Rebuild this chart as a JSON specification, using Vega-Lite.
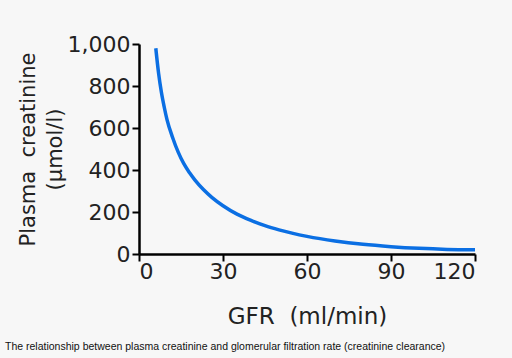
{
  "$schema": "https://vega.github.io/schema/vega-lite/v6.json",
  "autosize": "none",
  "width": 336,
  "height": 210,
  "padding": {"left": 139, "top": 44, "right": 37, "bottom": 104},
  "background": "#f7f7f7",
  "config": {
    "view": {"stroke": null},
    "font": "DejaVu Sans"
  },
  "title": {
    "text": "The relationship between plasma creatinine and glomerular filtration rate (creatinine clearance)",
    "orient": "bottom",
    "anchor": "start",
    "frame": "group",
    "dx": -134,
    "offset": 14,
    "font": "Liberation Sans",
    "fontSize": 10.5,
    "fontWeight": "normal",
    "color": "#111111"
  },
  "data": {
    "values": [
      {"gfr": 6, "creat": 980},
      {"gfr": 7, "creat": 860},
      {"gfr": 8, "creat": 770},
      {"gfr": 9, "creat": 700},
      {"gfr": 10, "creat": 640},
      {"gfr": 12, "creat": 555},
      {"gfr": 14, "creat": 485},
      {"gfr": 16, "creat": 430},
      {"gfr": 18, "creat": 388},
      {"gfr": 20, "creat": 352},
      {"gfr": 23, "creat": 307},
      {"gfr": 26, "creat": 270},
      {"gfr": 30, "creat": 230},
      {"gfr": 35, "creat": 190},
      {"gfr": 40, "creat": 160},
      {"gfr": 45, "creat": 135},
      {"gfr": 50, "creat": 115},
      {"gfr": 55, "creat": 98},
      {"gfr": 60, "creat": 84},
      {"gfr": 70, "creat": 62},
      {"gfr": 80, "creat": 46},
      {"gfr": 90, "creat": 35},
      {"gfr": 100, "creat": 27},
      {"gfr": 110, "creat": 22},
      {"gfr": 120, "creat": 20}
    ]
  },
  "mark": {"type": "line", "color": "#0b6fe3", "strokeWidth": 3.5, "interpolate": "monotone", "strokeCap": "butt"},
  "encoding": {
    "x": {
      "field": "gfr",
      "type": "quantitative",
      "scale": {"domain": [0, 120], "nice": false, "zero": true},
      "axis": {
        "values": [0, 30, 60, 90, 120],
        "title": "GFR\u00a0\u00a0(ml/min)",
        "grid": false,
        "domainColor": "#000000",
        "domainWidth": 2.5,
        "tickColor": "#000000",
        "tickWidth": 2,
        "tickSize": 7,
        "labelFontSize": 22,
        "labelColor": "#222222",
        "labelPadding": 0,
        "labelFont": "DejaVu Sans",
        "titleFont": "DejaVu Sans",
        "titleFontSize": 23,
        "titleFontWeight": "normal",
        "titleColor": "#222222",
        "titlePadding": 23
      }
    },
    "y": {
      "field": "creat",
      "type": "quantitative",
      "scale": {"domain": [0, 1000], "nice": false},
      "axis": {
        "values": [0, 200, 400, 600, 800, 1000],
        "format": ",d",
        "title": ["Plasma\u00a0\u00a0creatinine", "(µmol/l)"],
        "grid": false,
        "domainColor": "#000000",
        "domainWidth": 2.5,
        "tickColor": "#000000",
        "tickWidth": 2,
        "tickSize": 7,
        "labelFontSize": 22,
        "labelColor": "#222222",
        "labelPadding": 2,
        "labelFont": "DejaVu Sans",
        "titleFont": "DejaVu Sans",
        "titleFontSize": 21,
        "titleFontWeight": "normal",
        "titleColor": "#222222",
        "titleLineHeight": 27,
        "titlePadding": 2
      }
    }
  }
}
